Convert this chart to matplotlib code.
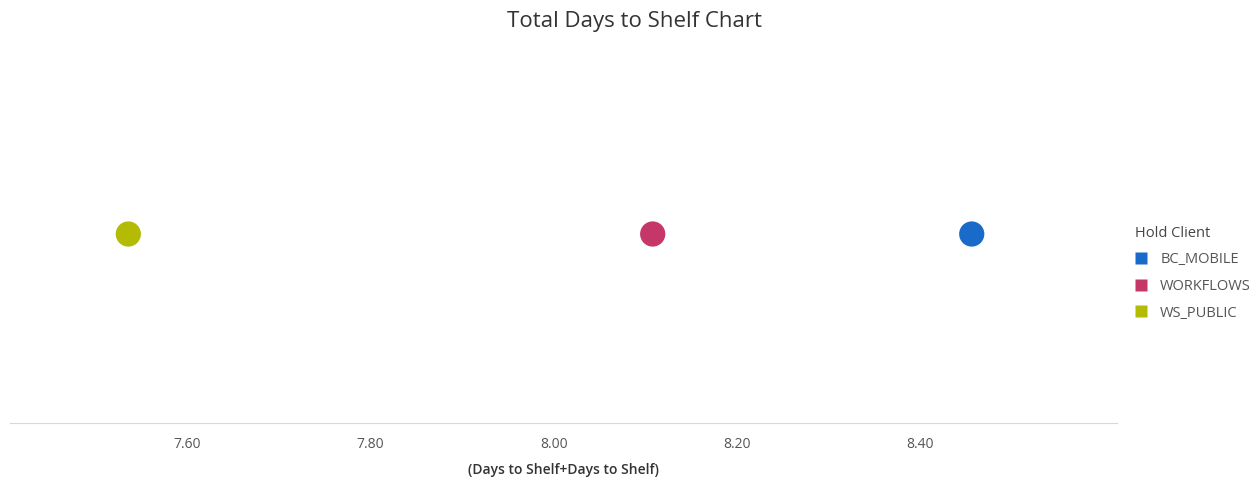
import matplotlib.pyplot as plt
from matplotlib.lines import Line2D

plt.rcParams['font.family'] = ['Open Sans', 'DejaVu Sans']

clients = ['BC_MOBILE', 'WORKFLOWS', 'WS_PUBLIC']
days_to_shelf = [8.456, 8.108, 7.536]
colors = ['#1a6bc9', '#c43768', '#b4bb05']
ticks = [7.60, 7.80, 8.00, 8.20, 8.40]

fig = plt.figure(figsize=(12.56, 4.8), dpi=100)
ax = fig.add_axes([0.008, 0.119, 0.881, 0.787])

for name, val, c in zip(clients, days_to_shelf, colors):
    ax.scatter([val], [0], s=330, color=c, edgecolors='none', zorder=3)

ax.set_xlim(7.407, 8.614)
ax.set_ylim(-1, 1)
ax.set_xticks(ticks)
ax.set_xticklabels(['%.2f' % t for t in ticks], color='#555555', fontsize=10)
ax.tick_params(axis='x', length=0, pad=10)
ax.set_yticks([])
for side in ['top', 'left', 'right']:
    ax.spines[side].set_visible(False)
ax.spines['bottom'].set_color('#d9d9d9')
ax.set_xlabel('(Days to Shelf+Days to Shelf)', fontsize=10, fontweight='semibold',
              color='#333333', labelpad=8)

fig.text(0.505, 0.955, 'Total Days to Shelf Chart', ha='center', va='center',
         fontsize=16, color='#333333')

handles = [Line2D([], [], marker='s', linestyle='none', markersize=8,
                  markerfacecolor=c, markeredgecolor='none') for c in colors]
leg = fig.legend(handles, clients, title='Hold Client', loc='upper left',
                 bbox_to_anchor=(0.904, 0.53), frameon=False, fontsize=10.5,
                 title_fontsize=10.5, handletextpad=0.9, labelspacing=0.8,
                 handlelength=0.8, borderpad=0, borderaxespad=0)
leg._legend_box.align = 'left'
for t in leg.get_texts():
    t.set_color('#555555')
leg.get_title().set_color('#444444')

fig.savefig('out.png', dpi=100)
